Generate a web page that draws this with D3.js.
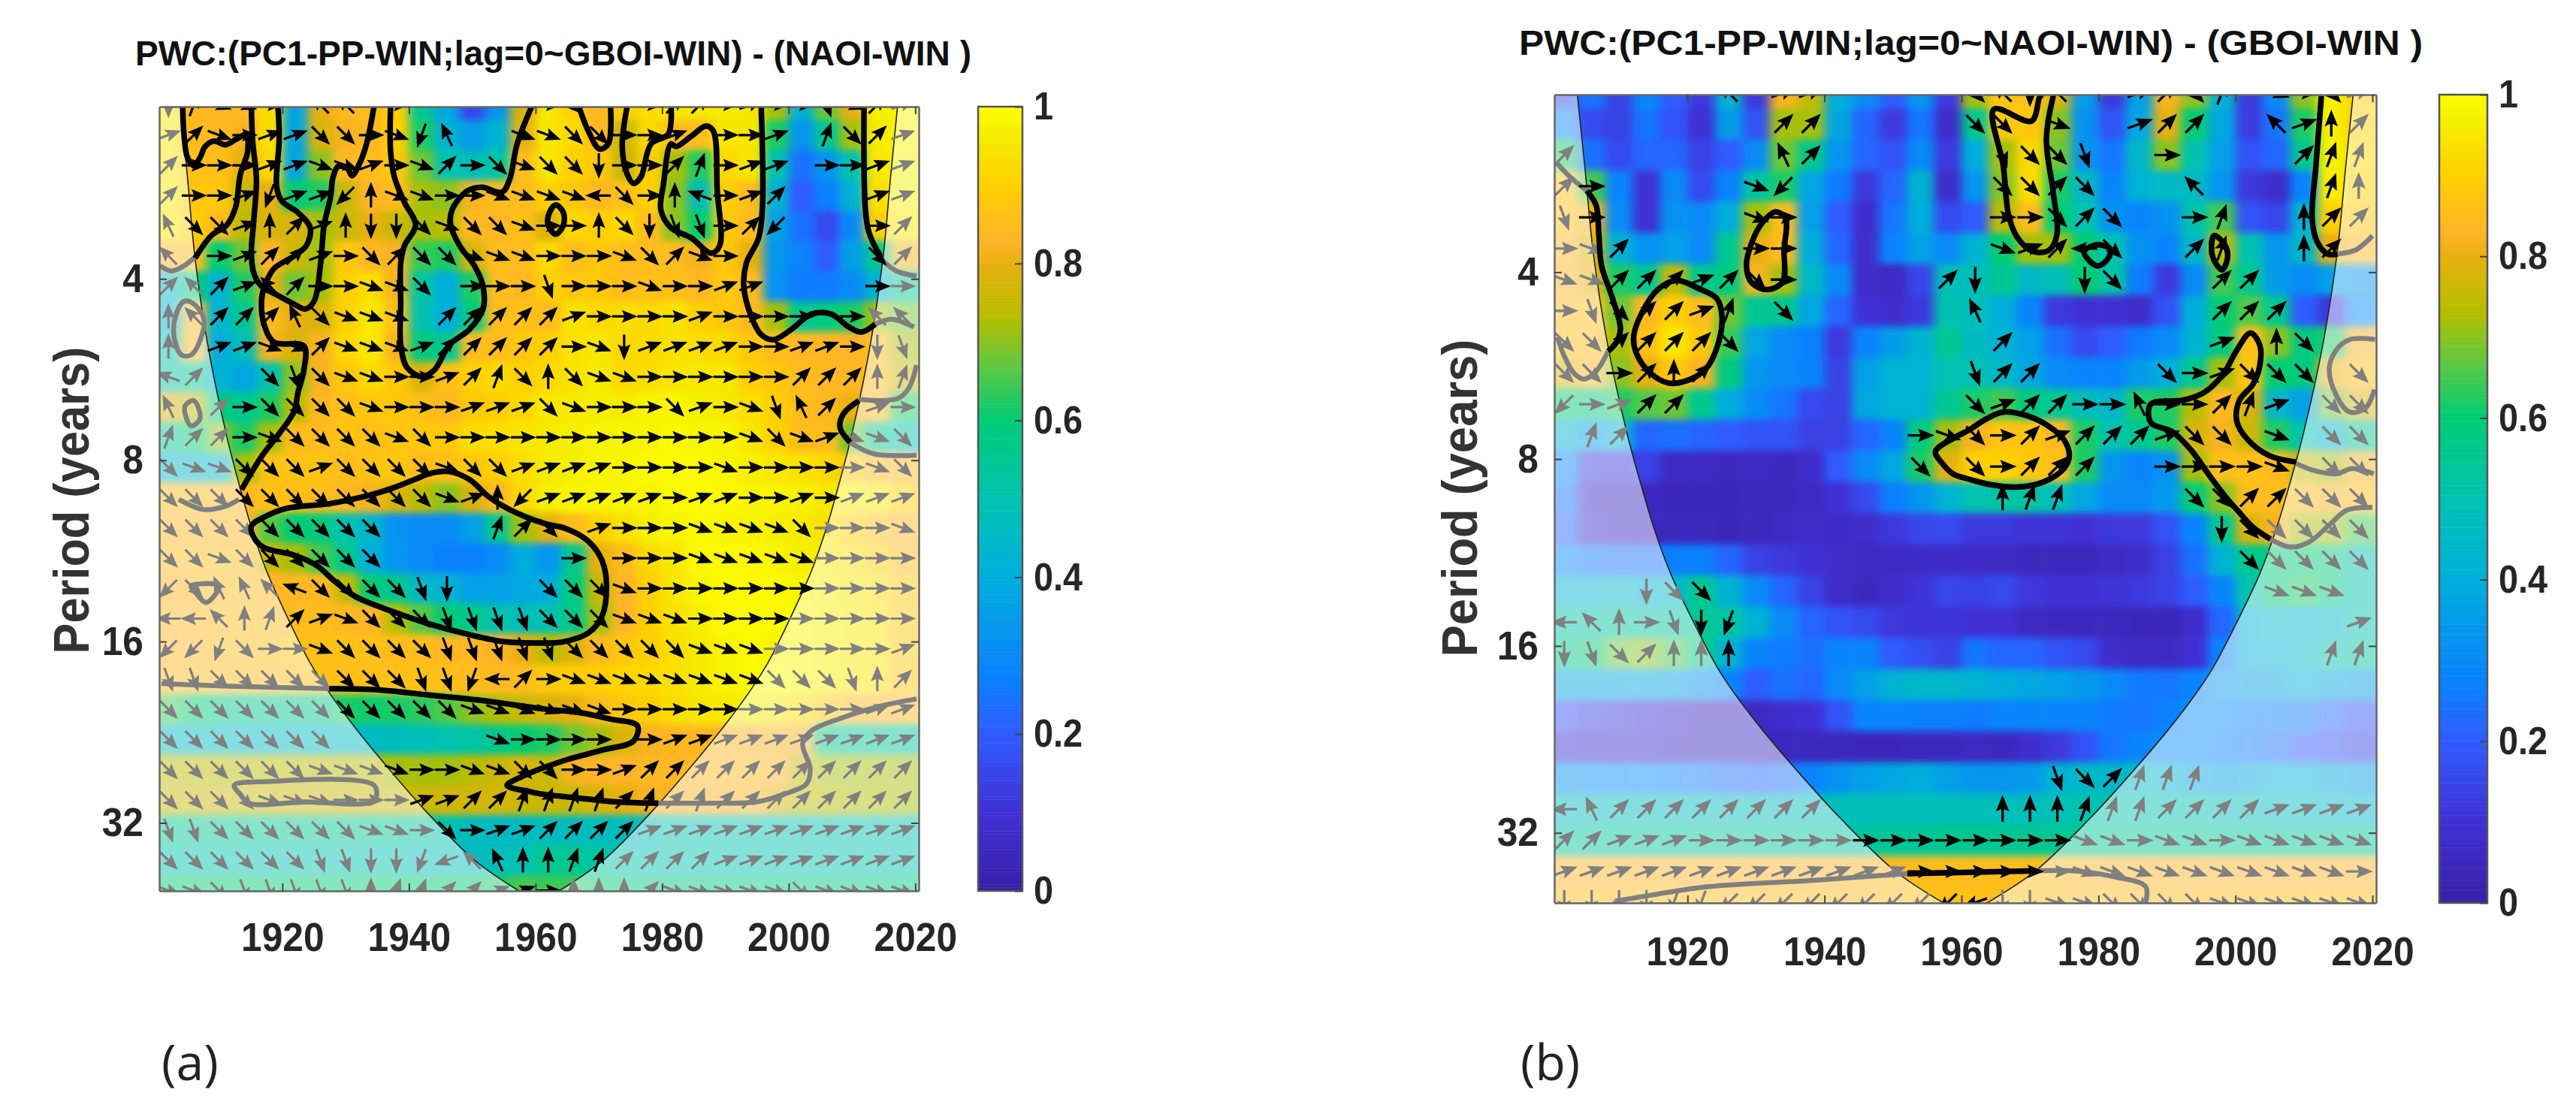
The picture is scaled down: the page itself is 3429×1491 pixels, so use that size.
<!DOCTYPE html>
<html>
<head>
<meta charset="utf-8">
<script src="https://d3js.org/d3.v7.min.js"></script>
<style>
	html, body { margin: 0; padding: 0; background: #fff; }
	text { font-family: "Liberation Sans", Arial, sans-serif; }
</style>
</head>
<body>
<div id="chart"></div>
<script>

// year of each column, log2(period) of each row
var columnYears = d3.range(30).map(function(i) { return 1902 + 4 * i; });
var rowOctaves = d3.range(27).map(function(j) { return 1.04 + j / 6; });

var yearTicks = [1920, 1940, 1960, 1980, 2000, 2020];
var periodTicks = [4, 8, 16, 32];
var colourTicks = [0, 0.2, 0.4, 0.6, 0.8, 1];

var colourStops = [0, 0.1, 0.2, 0.27, 0.4, 0.5, 0.6, 0.67, 0.73, 0.8, 0.83, 0.9, 0.97, 1];
var colourHexes = ["#3a20a8", "#4030d4", "#2f5cff", "#0a80ff", "#00aedc", "#00c2b0", "#00cc74", "#60c840", "#b4be00", "#e8b010", "#ffb428", "#ffd000", "#f5f000", "#ffff00"];

// cone of influence, left branch: year and log2(period)
var coiYears = [1903.9, 1905, 1906.2, 1908.2, 1911.2, 1913.4, 1915.1, 1917.5, 1920.7, 1924.3, 1927.4, 1930.9, 1936.1, 1942.4, 1950.4, 1957.6];
var coiOctaves = [1.046, 1.436, 1.884, 2.361, 2.867, 3.162, 3.369, 3.61, 3.859, 4.112, 4.282, 4.448, 4.672, 4.925, 5.207, 5.38];

// compass letters for the phase arrows, angle in degrees
var compass = { ">": 0, a: 20, A: 45, B: 70, "^": 90, C: 115, D: 135, F: 160, "<": 180, G: 200, H: 225, I: 250, v: 270, J: 290, K: 315, L: 340 };

var coherenceA = [
	[.96,.84,.84,.84,.93,.38,.8,.84,.85,.9,.55,.38,.15,.33,.78,.95,.9,.84,.9,.93,.95,.96,.96,.95,.72,.42,.68,.8,.97,.98],
	[.96,.85,.84,.82,.93,.38,.78,.82,.84,.9,.62,.42,.35,.42,.8,.95,.92,.84,.76,.92,.85,.85,.95,.95,.62,.33,.55,.72,.96,.98],
	[.95,.86,.86,.8,.92,.38,.7,.84,.85,.88,.68,.5,.48,.52,.85,.95,.9,.88,.76,.9,.72,.62,.92,.95,.5,.24,.33,.5,.95,.97],
	[.96,.88,.88,.76,.8,.6,.62,.76,.83,.85,.72,.7,.82,.85,.85,.9,.88,.84,.86,.9,.7,.48,.9,.85,.42,.2,.27,.42,.93,.97],
	[.95,.9,.84,.74,.78,.78,.72,.76,.8,.76,.72,.74,.84,.84,.86,.78,.92,.9,.92,.85,.7,.6,.88,.85,.36,.24,.16,.3,.9,.96],
	[.84,.85,.6,.68,.83,.76,.72,.88,.84,.82,.64,.62,.78,.85,.85,.92,.85,.88,.85,.85,.85,.82,.88,.8,.33,.28,.2,.36,.55,.82],
	[.45,.6,.42,.62,.8,.68,.72,.9,.93,.82,.52,.4,.62,.85,.84,.9,.88,.88,.85,.86,.86,.84,.88,.85,.32,.26,.26,.3,.42,.55],
	[.42,.84,.43,.55,.84,.8,.78,.9,.95,.86,.5,.4,.58,.85,.86,.85,.94,.92,.93,.92,.94,.9,.88,.84,.72,.55,.58,.62,.72,.68],
	[.5,.84,.4,.48,.82,.78,.82,.92,.95,.82,.58,.55,.85,.85,.88,.9,.94,.95,.92,.92,.94,.93,.92,.88,.85,.84,.84,.83,.85,.72],
	[.52,.55,.42,.38,.5,.7,.82,.88,.92,.88,.78,.86,.9,.92,.9,.92,.94,.96,.92,.93,.95,.95,.95,.9,.88,.85,.84,.84,.85,.76],
	[.78,.75,.58,.55,.62,.74,.84,.86,.88,.88,.86,.84,.88,.9,.92,.95,.96,.97,.96,.98,.98,.97,.96,.93,.9,.85,.84,.8,.85,.62],
	[.55,.6,.7,.62,.72,.85,.85,.87,.86,.87,.88,.88,.93,.93,.95,.96,.97,.98,.98,.98,.99,.98,.98,.95,.9,.85,.85,.68,.55,.5],
	[.45,.45,.45,.72,.86,.87,.87,.85,.87,.88,.85,.86,.88,.9,.93,.96,.97,.98,.98,.99,.99,.99,.98,.97,.95,.94,.92,.88,.85,.84],
	[.85,.85,.84,.84,.86,.86,.85,.84,.82,.78,.74,.7,.78,.84,.92,.97,.98,.98,.98,.98,.99,.99,.99,.98,.98,.97,.95,.97,.96,.9],
	[.84,.84,.84,.84,.66,.6,.58,.5,.44,.32,.3,.3,.36,.55,.72,.8,.85,.9,.94,.97,.98,.99,.98,.98,.97,.96,.94,.9,.86,.84],
	[.85,.85,.85,.85,.76,.72,.65,.56,.4,.33,.3,.27,.27,.3,.4,.33,.55,.8,.85,.92,.95,.99,.99,.99,.98,.97,.96,.93,.9,.85],
	[.82,.84,.85,.85,.84,.84,.84,.75,.6,.55,.45,.42,.36,.36,.38,.4,.58,.75,.83,.9,.95,.98,.99,.99,.99,.98,.97,.95,.93,.88],
	[.84,.84,.85,.85,.85,.85,.85,.84,.83,.73,.66,.6,.55,.5,.48,.5,.56,.72,.83,.9,.94,.97,.99,.99,.99,.98,.97,.96,.94,.88],
	[.84,.84,.85,.85,.86,.87,.86,.86,.86,.85,.85,.84,.84,.83,.8,.74,.78,.84,.88,.9,.93,.96,.98,.99,.98,.98,.97,.96,.95,.88],
	[.85,.85,.85,.85,.85,.86,.86,.86,.86,.86,.86,.86,.85,.84,.85,.88,.89,.9,.91,.92,.94,.96,.98,.99,.99,.98,.97,.95,.94,.88],
	[.64,.6,.56,.56,.56,.56,.56,.62,.61,.62,.63,.66,.7,.73,.76,.78,.8,.85,.88,.9,.93,.95,.96,.97,.95,.93,.88,.85,.84,.84],
	[.46,.46,.46,.46,.46,.46,.46,.46,.46,.47,.48,.5,.52,.56,.6,.62,.68,.72,.78,.82,.84,.84,.84,.82,.82,.82,.56,.54,.54,.52],
	[.74,.74,.74,.74,.74,.74,.74,.74,.74,.72,.72,.72,.74,.76,.78,.76,.82,.83,.83,.84,.84,.84,.84,.84,.84,.75,.72,.72,.72,.72],
	[.76,.76,.76,.76,.76,.76,.76,.76,.76,.76,.76,.77,.77,.77,.76,.76,.76,.78,.8,.82,.82,.82,.82,.82,.78,.74,.74,.73,.73,.72],
	[.56,.55,.55,.55,.55,.55,.55,.55,.55,.55,.53,.5,.47,.46,.46,.47,.47,.47,.47,.48,.5,.5,.5,.5,.5,.5,.5,.5,.5,.5],
	[.5,.5,.5,.5,.5,.5,.5,.5,.5,.5,.48,.48,.47,.48,.5,.55,.55,.52,.5,.5,.5,.5,.5,.5,.5,.5,.5,.5,.5,.5],
	[.6,.6,.6,.6,.6,.6,.6,.6,.6,.6,.6,.6,.6,.62,.65,.64,.64,.6,.58,.58,.58,.58,.58,.58,.58,.58,.58,.58,.58,.58]
];

var coherenceB = [
	[.16,.25,.14,.28,.2,.12,.42,.12,.82,.75,.4,.3,.2,.33,.12,.72,.87,.87,.78,.35,.12,.36,.82,.7,.42,.12,.3,.7,.97,.9],
	[.3,.16,.14,.25,.18,.1,.35,.18,.72,.72,.38,.22,.12,.25,.08,.55,.88,.88,.7,.32,.18,.38,.8,.6,.38,.13,.25,.62,.97,.9],
	[.62,.24,.16,.22,.22,.14,.2,.3,.68,.56,.33,.22,.18,.3,.12,.4,.72,.92,.68,.33,.25,.45,.7,.5,.36,.18,.22,.55,.97,.92],
	[.86,.65,.28,.1,.3,.16,.28,.52,.62,.38,.26,.12,.22,.42,.08,.33,.7,.93,.62,.45,.28,.42,.45,.46,.33,.12,.08,.28,.97,.9],
	[.87,.82,.3,.1,.32,.3,.4,.72,.85,.36,.2,.08,.25,.4,.16,.2,.74,.85,.6,.5,.32,.28,.32,.5,.65,.18,.15,.42,.9,.88],
	[.84,.78,.42,.32,.36,.3,.55,.8,.85,.4,.22,.08,.28,.36,.3,.42,.6,.72,.72,.6,.5,.32,.28,.45,.75,.5,.33,.44,.8,.84],
	[.83,.8,.62,.55,.75,.55,.58,.82,.72,.45,.3,.08,.06,.15,.48,.48,.55,.45,.48,.6,.52,.26,.12,.3,.65,.55,.35,.3,.36,.33],
	[.85,.86,.68,.84,.9,.85,.68,.55,.55,.38,.22,.1,.08,.12,.5,.48,.4,.28,.12,.1,.1,.08,.18,.4,.6,.66,.55,.2,.12,.3],
	[.86,.85,.72,.86,.95,.88,.64,.38,.3,.27,.12,.28,.35,.42,.55,.46,.42,.36,.24,.16,.2,.26,.3,.42,.58,.86,.7,.58,.62,.82],
	[.78,.84,.7,.8,.88,.82,.58,.33,.3,.28,.14,.36,.42,.42,.5,.5,.45,.38,.3,.28,.28,.35,.4,.55,.72,.87,.6,.58,.8,.85],
	[.6,.58,.62,.66,.68,.56,.4,.3,.25,.16,.14,.38,.42,.42,.55,.62,.65,.58,.55,.48,.44,.62,.62,.74,.84,.78,.45,.36,.68,.78],
	[.42,.36,.42,.22,.24,.22,.2,.18,.18,.14,.14,.22,.28,.58,.72,.82,.87,.87,.84,.62,.5,.55,.62,.78,.82,.76,.62,.5,.42,.55],
	[.3,.13,.12,.14,.06,.06,.05,.06,.05,.08,.2,.3,.38,.62,.8,.9,.9,.88,.86,.62,.33,.28,.32,.72,.86,.86,.85,.75,.72,.82],
	[.25,.07,.06,.05,.04,.04,.04,.05,.05,.06,.1,.16,.27,.33,.42,.5,.52,.52,.48,.38,.3,.3,.34,.6,.7,.85,.85,.85,.82,.85],
	[.22,.09,.06,.05,.05,.05,.04,.05,.06,.08,.07,.08,.12,.15,.16,.12,.12,.11,.11,.1,.12,.12,.18,.28,.55,.78,.82,.72,.72,.65],
	[.3,.26,.24,.24,.27,.27,.22,.14,.12,.1,.08,.06,.06,.07,.07,.06,.06,.05,.05,.05,.06,.08,.14,.24,.42,.55,.58,.6,.58,.5],
	[.42,.42,.44,.42,.45,.55,.42,.3,.22,.14,.08,.05,.08,.11,.15,.14,.16,.12,.1,.1,.11,.12,.14,.2,.28,.5,.6,.62,.58,.5],
	[.52,.52,.53,.52,.52,.55,.52,.42,.3,.22,.18,.16,.12,.11,.11,.1,.1,.06,.05,.05,.05,.04,.04,.08,.22,.42,.44,.42,.44,.5],
	[.56,.6,.68,.7,.65,.56,.42,.28,.26,.24,.28,.28,.2,.17,.14,.25,.22,.22,.18,.16,.08,.06,.06,.1,.28,.4,.42,.44,.5,.52],
	[.38,.38,.38,.38,.36,.32,.28,.2,.24,.22,.3,.36,.42,.44,.44,.42,.4,.38,.36,.34,.3,.26,.25,.28,.34,.36,.38,.4,.38,.36],
	[.18,.14,.12,.1,.08,.06,.06,.06,.08,.1,.18,.28,.28,.27,.27,.26,.28,.28,.28,.28,.26,.25,.27,.3,.3,.28,.27,.26,.22,.18],
	[.1,.09,.08,.08,.07,.06,.06,.06,.05,.05,.05,.04,.04,.05,.05,.06,.05,.08,.12,.18,.25,.28,.3,.3,.28,.26,.24,.2,.18,.15],
	[.33,.3,.3,.3,.28,.26,.24,.22,.24,.28,.32,.36,.38,.4,.36,.33,.33,.35,.42,.45,.44,.45,.42,.38,.36,.38,.4,.4,.38,.36],
	[.46,.47,.47,.47,.47,.47,.47,.47,.47,.48,.48,.48,.48,.48,.48,.48,.48,.48,.49,.5,.5,.5,.5,.5,.48,.48,.46,.46,.46,.44],
	[.53,.53,.53,.53,.53,.53,.53,.53,.53,.53,.53,.53,.54,.54,.55,.55,.55,.55,.55,.55,.54,.54,.54,.54,.54,.54,.54,.54,.54,.54],
	[.83,.83,.83,.83,.83,.83,.83,.83,.83,.83,.83,.83,.84,.85,.85,.85,.85,.85,.85,.84,.83,.83,.83,.83,.83,.83,.83,.83,.83,.83],
	[.85,.85,.85,.85,.85,.85,.85,.85,.85,.85,.85,.85,.85,.86,.86,.86,.86,.86,.85,.85,.85,.85,.85,.85,.85,.85,.85,.85,.85,.85]
];

var arrowsA = [
	"vBLL>.DD.>.....>K..>AA>a>>JLAa",
	"aAL>aaKK>LIC..LLKK>>a.>>a.BKAa",
	"A>>>aaLLa>LA>KLKKv>>AB>aa.>>aa",
	"A>>aIaaH^LL>>LLLL<K>^F>aA...aa",
	"CKKa^Aa^vvKLKKL>>^KvJJ>AH...>A",
	"D.>aAAa>KAKKLLL>>>LKAL>.....KA",
	"ADAaDA>>LLK.>>>J>>>L>>aa....>>",
	"^DAAACKLLL.AAAAAa>>>>a>>>>.>DD",
	"^.aaLLALLLaAAAAA>Lvaaaa>>aa>vJ",
	"FA..KJKLL>>aABK^KLL>>>>>>AAA^B",
	"C.A>KKKKL>>>aaaKL>>>Ka>LJCA.a>",
	"BAA>LKKKKLK>>>>>>>>>>>>LKLaLLK",
	"KLLKKKaKKKKLKKaaaa>>>>L>>>>>LK",
	"KKKKKKKKKKKLa^Haaaaa>aa>>a>aaa",
	"KKKKKKKKK....BAK.a>>>LLLLK>>>L",
	"KKLKKKKKK.......>.>>>LLLLL>>>>",
	"HKCCDFKKKKJv...KKKL>>>>>>>>>>>",
	"<<D^BAaLKKKJJJJKKKLLL>>>>>>>>>",
	"HHIK>>LKKKKJJJJJKKKKKLLL>>>>>a",
	"JJKKKKKKKKJJI<A>LLLLLLLLKKKJ^A",
	"KKKKKKKKKKKKLLLLLL>>>>>>>>>>aa",
	"KKKKKKK......L>>>>.>aaaaaaaaaa",
	"KKKKKKLLLL>>LLKK>>aAAAAAAAAAAA",
	"KKKKLLL>>>aaAABBBBABABAAAAAAAA",
	"JJKKKKKKLL>K>aaAAAAaaaaaaaaaaa",
	"KKKKKKJJvvIGDC^^BBAAAAaaaaaaaa",
	"LLKJJJJJ^BBAAaa>^^^ALLLLLKLLLL"
];

var arrowsB = [
	"......D.aa.....KDvD..aAKB.L>Ka",
	"........AA.....KK.L..aAA..Da^A",
	"A.......CA......JKKJ..>....ABB",
	"A>.....LH.......KKAK...D....B^",
	"J>.....L>.......>>KAK..>B..^AA",
	">LA....>>.......LaA<K..AB..^A.",
	"LLAAAaAK>.....Av...vK...AA....",
	">JKAAaB.K......C........AAA...",
	"KKAAAAK.........A.......a.^K..",
	"KK>A^A.........JAA....K>aKKK.K",
	"H>aAA..........KaAA>>C>>ABa.KK",
	".BA..........>LK>AaAAAaKK.L.KK",
	".............K.K>AAA..>>>>L.KK",
	"................^BB....KKAAKKK",
	"........................vKKKKK",
	".........................KKKKK",
	"...vKK....................LLL.",
	"<D^>JvI......................a",
	"vJKA^^^.....................BB",
	"..............................",
	"..............................",
	"..............................",
	"..................JKABBB......",
	"<CAAAAAAAA......^^^BBBAAAAaaaa",
	"AAaaa>>>>>>>>>>>>>>LL>LL>LLLLL",
	"aaaaaaaaaaaaa>>>>>>LLLLLLLLLL>",
	"vvvvIIHHHHHHHHHGvvLLKKKKLLLLLL"
];

// significance contours as [year, log2(period)]
var blackLinesA = [
	[[1904.25,1.045],[1904.45,1.2],[1905,1.33],[1906,1.375],[1907,1.33],[1907.8,1.27],[1909.2,1.24],[1911,1.26],[1912.8,1.227],[1914.3,1.206],[1914.5,1.3],[1913.35,1.424],[1912.6,1.606],[1911.2,1.704],[1908.8,1.76],[1906.2,1.886]],
	[[1915.1,1.045],[1915.3,1.24],[1915.9,1.45],[1915.45,1.69],[1915.1,1.858],[1915.5,1.97],[1916.7,2.04],[1918.7,2.08],[1921.9,2.14],[1923.6,2.166],[1925,2.124],[1926,1.928],[1926.6,1.704],[1927.6,1.55],[1928,1.44],[1928.8,1.38],[1930.2,1.388],[1931,1.43],[1932.15,1.367],[1933.3,1.255],[1934.5,1.045]],
	[[1919.3,1.045],[1919.5,1.227],[1919.1,1.494],[1919.9,1.57],[1922.45,1.634],[1924.4,1.718],[1923.8,1.816],[1921.9,1.872],[1918.7,1.942],[1917.7,1.998],[1917.1,2.047],[1916.7,2.124],[1917.1,2.25],[1918.7,2.349],[1923.4,2.37],[1923.4,2.503],[1922.45,2.629],[1921.9,2.727],[1919.5,2.853],[1916.7,2.98],[1913.55,3.162]],
	[[1937.1,1.045],[1937.1,1.297],[1937.7,1.438],[1939.3,1.578],[1941.05,1.704],[1939.3,1.816],[1938.7,1.914],[1938.7,2.138],[1938.7,2.363],[1939.7,2.489],[1942,2.538],[1944,2.503],[1946.4,2.363],[1949.55,2.279],[1951.7,2.166],[1951.7,2.04],[1950.35,1.928],[1948,1.816],[1946.6,1.704],[1946.8,1.62],[1949.2,1.515],[1951.5,1.494],[1954.7,1.522],[1955.9,1.452],[1957.1,1.255],[1959.45,1.045]],
	[[1966.8,1.045],[1968.35,1.185],[1970.1,1.283],[1971.5,1.255],[1971.85,1.045]],
	[[1974.5,1.045],[1973.7,1.27],[1974.5,1.424],[1975.5,1.473],[1976.65,1.438],[1978.25,1.255],[1981,1.2],[1981.4,1.045]],
	[[1995.65,1.045],[1995.85,1.606],[1995.25,1.774],[1993.3,1.914],[1992.9,2.04],[1994.1,2.208],[1995.65,2.307],[1997.6,2.335],[2000.4,2.279],[2003.6,2.194],[2006.7,2.194],[2009.5,2.265],[2011.5,2.293],[2013.65,2.25]],
	[[2011.9,1.045],[2012.1,1.606],[2012.7,1.746],[2014.65,1.886]],
	[[2011.1,2.671],[2008.7,2.741],[2008.1,2.818],[2009.7,2.902]],
	[[1927.4,4.26],[1935.3,4.267],[1943.2,4.295],[1951.1,4.323],[1961.4,4.372],[1967.2,4.393],[1971.9,4.428],[1976.1,4.464],[1975.5,4.548],[1970.7,4.597],[1964.8,4.653],[1960.8,4.702],[1957.9,4.744],[1955.5,4.793],[1959.1,4.828],[1960.8,4.84],[1966.8,4.863],[1972.7,4.884],[1979.4,4.891]]
];
var blackLoopsA = [
	[[1981.4,1.255],[1980.2,1.48],[1979.8,1.62],[1981.4,1.718],[1984.6,1.774],[1987.75,1.858],[1989.1,1.816],[1988.7,1.508],[1988.1,1.185],[1986.95,1.157],[1984.6,1.213],[1982.2,1.27]],
	[[1963.2,1.592],[1964.4,1.634],[1964.4,1.704],[1963.2,1.753],[1962,1.704],[1962.2,1.634]],
	[[1915.1,3.363],[1917.1,3.314],[1920.7,3.265],[1927.4,3.24],[1933,3.2],[1937.3,3.155],[1940.9,3.106],[1943.6,3.07],[1946.4,3.063],[1949.55,3.106],[1952.7,3.204],[1955.9,3.272],[1961.4,3.349],[1964.8,3.377],[1968.35,3.447],[1970.5,3.552],[1971.2,3.679],[1970.5,3.861],[1968.35,3.952],[1964.4,4.001],[1960.83,4.008],[1955.1,4.001],[1949.2,3.959],[1943.2,3.903],[1937.3,3.833],[1931.4,3.749],[1928.2,3.665],[1925.4,3.58],[1921.9,3.524],[1917.1,3.482],[1915.5,3.426]]
];
var grayLinesA = [
	[[1900.7,1.928],[1902.5,1.956],[1904.45,1.928],[1906.2,1.879]],
	[[1903.65,3.216],[1907.6,3.272],[1911.2,3.251],[1913.15,3.216]],
	[[1900.9,4.232],[1911.6,4.246],[1927.4,4.26]],
	[[2014.85,1.9],[2017,1.956],[2020.2,1.984]],
	[[2013.65,2.25],[2016.2,2.222],[2019.8,2.265]],
	[[2020.2,2.475],[2019,2.601],[2017.4,2.657],[2014.25,2.671],[2011.1,2.664]],
	[[2009.7,2.902],[2013.45,2.965],[2020.2,2.972]],
	[[1979.4,4.891],[1988.5,4.891],[1994.9,4.884],[2000.4,4.828],[2002.8,4.786],[2003.4,4.702],[2002.2,4.562],[2003.6,4.492],[2008.3,4.422],[2014.25,4.358],[2020.2,4.316]]
];
var grayLoopsA = [
	[[1904.45,2.124],[1903.1,2.208],[1902.9,2.32],[1904.05,2.419],[1905.6,2.419],[1907.2,2.32],[1907.6,2.222],[1906,2.138]],
	[[1904.65,2.699],[1906,2.671],[1907,2.769],[1905.6,2.811],[1904.85,2.769]],
	[[1905.6,3.693],[1910,3.693],[1908,3.784],[1906.4,3.735]],
	[[1912.4,4.793],[1917.5,4.772],[1934.5,4.793],[1934.5,4.877],[1923.4,4.884],[1914.7,4.891],[1913.35,4.842]]
];

var blackLinesB = [
	[[1905.3,1.565],[1906.65,1.642],[1907.05,1.797],[1907.45,1.966],[1909,2.135],[1910.2,2.304],[1909.6,2.375],[1908.4,2.424]],
	[[1971.8,1.05],[1971.4,1.064],[1970.25,1.191],[1964.75,1.128],[1966.1,1.431],[1966.9,1.698],[1968.1,1.811],[1970.45,1.889],[1972.8,1.882],[1973.95,1.797],[1973.4,1.572],[1972.4,1.29],[1973.4,1.057]],
	[[2012.55,1.057],[2011.75,1.431],[2011.2,1.713],[2011.95,1.839],[2013.5,1.903],[2014.9,1.903]],
	[[2005.1,3.428],[2002.55,3.365],[2000.6,3.287],[1998.65,3.206],[1996.3,3.093],[1993.55,2.953],[1990.8,2.854],[1987.65,2.805],[1987.65,2.706],[1992.35,2.685],[1995.5,2.642],[1998.25,2.544],[2000.2,2.417],[2002.2,2.325],[2003.55,2.389],[2003.55,2.502],[2002.55,2.6],[2000.6,2.685],[2000.2,2.797],[2001.8,2.896],[2004.9,2.981],[2008.85,3.016]],
	[[1952.1,5.218],[1961,5.211],[1970,5.204]]
];
var blackLoopsB = [
	[[1918.4,2.044],[1921.55,2.086],[1924.3,2.142],[1925.05,2.248],[1924.3,2.403],[1922.7,2.516],[1920,2.579],[1917.2,2.593],[1914.5,2.537],[1912.5,2.431],[1912.15,2.34],[1913.3,2.22],[1915.65,2.093]],
	[[1932.9,1.677],[1934.3,1.713],[1934.1,1.882],[1933.9,2.051],[1931.7,2.093],[1929.4,2.058],[1928.6,1.966],[1929.4,1.84],[1930.95,1.734]],
	[[1979.85,1.853],[1981.8,1.882],[1981,1.945],[1979.8,1.966],[1978.65,1.938],[1977.9,1.889]],
	[[1996.9,1.804],[1998.45,1.853],[1998.85,1.924],[1998.05,1.987],[1996.9,1.938],[1996.5,1.868]],
	[[1966.1,2.748],[1969.65,2.769],[1972.8,2.826],[1974.95,2.896],[1975.75,2.981],[1974.95,3.051],[1972,3.122],[1968.1,3.15],[1964.15,3.136],[1961.03,3.107],[1958.8,3.08],[1957.2,3.023],[1956.2,2.96],[1959.15,2.882],[1961,2.847],[1963.4,2.79]]
];
var grayLinesB = [
	[[1900.8,1.41],[1902.75,1.487],[1905.3,1.565]],
	[[1908.4,2.424],[1906.65,2.53],[1904.9,2.572],[1903.5,2.544],[1901.95,2.445],[1901,2.347]],
	[[2014.9,1.903],[2017.5,1.882],[2019.05,1.84],[2020,1.804]],
	[[2020.4,2.36],[2016.65,2.361],[2014.7,2.417],[2013.7,2.516],[2014.7,2.657],[2016.65,2.748],[2019,2.727],[2020.3,2.628]],
	[[2008.85,3.023],[2011.2,3.058],[2014.7,3.079],[2017.05,3.051],[2020.2,3.079]],
	[[2005.1,3.428],[2008.05,3.471],[2010.8,3.443],[2013.55,3.358],[2016.3,3.273],[2020,3.259]],
	[[1909.4,5.366],[1915.3,5.33],[1923.1,5.288],[1938.8,5.253],[1952.1,5.218]],
	[[1970,5.204],[1976.7,5.204],[1981.8,5.232],[1986.9,5.288],[1986.9,5.373]]
];

var colour = d3.scaleLinear().domain(colourStops).range(colourHexes);
var coiEdge = d3.scaleLinear().domain(coiYears).range(coiOctaves);

var svg = d3.select("#chart")
	.append("svg")
	.attr("width", 3429)
	.attr("height", 1491);

var defs = svg.append("defs");
var arrowShape = "M-16,-1.6L0,-1.6L-3,-8.5L18,0L-3,8.5L0,1.6L-16,1.6Z";

// squeeze a label sideways so it reads tall and narrow like the original
var squeeze = function(sel, k) {
	sel.each(function() {
		d3.select(this)
			.attr("textLength", this.getComputedTextLength() * k)
			.attr("lengthAdjust", "spacingAndGlyphs");
	});
}

var Panel = function(opts) {

	this.opts = opts;
	this.g = svg.append("g");

	this.x = d3.scaleLinear().domain([1900.55, 2020.55]).range([opts.left, opts.right]);
	// period axis is log2, so a plain linear scale on the octave
	this.y = d3.scaleLinear().domain([1.05, 5.375]).range([opts.top, opts.bottom]);

	var clip = "clip" + opts.id;
	defs.append("clipPath").attr("id", clip)
		.append("rect")
		.attr("x", opts.left).attr("y", opts.top)
		.attr("width", opts.right - opts.left)
		.attr("height", opts.bottom - opts.top);

	defs.append("filter").attr("id", "soft" + opts.id)
		.attr("filterUnits", "userSpaceOnUse")
		.attr("x", opts.left - 80).attr("y", opts.top - 80)
		.attr("width", opts.right - opts.left + 160)
		.attr("height", opts.bottom - opts.top + 160)
		.attr("color-interpolation-filters", "sRGB")
		.append("feGaussianBlur")
		.attr("stdDeviation", "7 5");

	this.plot = this.g.append("g").attr("clip-path", "url(#" + clip + ")");

	this.drawCells();
	this.drawCone();
	this.drawContours(opts.grayLines, opts.grayLoops, "#808080", 6.5);
	this.drawArrows();
	this.drawContours(opts.blackLines, opts.blackLoops, "#000", 7.5);
	this.drawAxes();
	this.drawColourBar();
	this.drawText();
}

Panel.prototype.drawCells = function() {
	var x = this.x, y = this.y;
	var cells = [];
	this.opts.coherence.forEach(function(row, j) {
		row.forEach(function(v, i) {
			cells.push({ year: columnYears[i], octave: rowOctaves[j], value: v, i: i, j: j });
		});
	});
	// edge cells run past the frame so the blur doesn't fade to white
	this.plot.append("g")
		.attr("filter", "url(#soft" + this.opts.id + ")")
		.selectAll("rect")
		.data(cells)
		.enter()
		.append("rect")
		.attr("x", function(d) { return x(d.year - 2) - (d.i == 0 ? 60 : 0); })
		.attr("y", function(d) { return y(d.octave - 1 / 12) - (d.j == 0 ? 60 : 0); })
		.attr("width", function(d) { return x(d.year + 2) - x(d.year - 2) + (d.i == 0 || d.i == 29 ? 60 : 0) + 0.5; })
		.attr("height", function(d) { return y(d.octave + 1 / 12) - y(d.octave - 1 / 12) + (d.j == 0 || d.j == 26 ? 60 : 0) + 0.5; })
		.attr("fill", function(d) { return colour(d.value); });
}

Panel.prototype.drawCone = function() {
	var x = this.x, y = this.y, o = this.opts;
	var left = coiYears.map(function(yr, i) { return { year: yr, octave: coiOctaves[i] }; });
	var right = left.map(function(d) { return { year: 3921.1 - d.year, octave: d.octave }; });

	var shade = function(edge) {
		return d3.area()
			.curve(d3.curveCatmullRom)
			.y(function(d) { return y(d.octave); })
			.x0(edge)
			.x1(function(d) { return x(d.year); });
	};
	var line = d3.line()
		.curve(d3.curveCatmullRom)
		.x(function(d) { return x(d.year); })
		.y(function(d) { return y(d.octave); });

	this.plot.append("path").attr("d", shade(o.left)(left)).attr("fill", "#fff").attr("opacity", 0.52);
	this.plot.append("path").attr("d", shade(o.right)(right)).attr("fill", "#fff").attr("opacity", 0.52);
	this.plot.append("path").attr("d", line(left)).attr("fill", "none").attr("stroke", "#222").attr("stroke-width", 1.6);
	this.plot.append("path").attr("d", line(right)).attr("fill", "none").attr("stroke", "#222").attr("stroke-width", 1.6);
}

Panel.prototype.drawContours = function(lines, loops, stroke, width) {
	var x = this.x, y = this.y;
	var open = d3.line().curve(d3.curveCatmullRom)
		.x(function(d) { return x(d[0]); }).y(function(d) { return y(d[1]); });
	var closed = d3.line().curve(d3.curveCatmullRomClosed)
		.x(function(d) { return x(d[0]); }).y(function(d) { return y(d[1]); });

	var paths = lines.map(function(l) { return open(l); }).concat(loops.map(function(l) { return closed(l); }));
	this.plot.append("g")
		.selectAll("path")
		.data(paths)
		.enter()
		.append("path")
		.attr("d", function(d) { return d; })
		.attr("fill", "none")
		.attr("stroke", stroke)
		.attr("stroke-width", width)
		.attr("stroke-linejoin", "round");
}

Panel.prototype.drawArrows = function() {
	var x = this.x, y = this.y, k = this.opts.arrowScale;
	var list = [];
	this.opts.arrows.forEach(function(row, j) {
		row.split("").forEach(function(c, i) {
			if (c == ".") return;
			var d = Math.min(columnYears[i], 3921.1 - columnYears[i]);
			list.push({
				year: columnYears[i],
				octave: rowOctaves[j],
				angle: compass[c],
				inside: rowOctaves[j] < coiEdge(d)
			});
		});
	});
	this.plot.append("g")
		.selectAll("path")
		.data(list)
		.enter()
		.append("path")
		.attr("d", arrowShape)
		.attr("transform", function(d) {
			return "translate(" + x(d.year) + "," + y(d.octave) + ") rotate(" + (-d.angle) + ") scale(" + k + ")";
		})
		.attr("fill", function(d) { return d.inside ? "#000" : "#808080"; });
}

Panel.prototype.drawAxes = function() {
	var o = this.opts, x = this.x, y = this.y;
	var axes = this.g.append("g");
	var octaves = periodTicks.map(function(p) { return Math.log2(p); });
	var periodLabel = function(v) { return Math.round(Math.pow(2, v)); };

	axes.append("g")
		.attr("transform", "translate(0," + o.bottom + ")")
		.call(d3.axisBottom(x).tickValues(yearTicks).tickFormat(d3.format("d")).tickSize(-10).tickSizeOuter(0).tickPadding(o.xPad));
	axes.append("g")
		.attr("transform", "translate(" + o.left + ",0)")
		.call(d3.axisLeft(y).tickValues(octaves).tickFormat(periodLabel).tickSize(-10).tickSizeOuter(0).tickPadding(21));
	axes.append("g")
		.attr("transform", "translate(0," + o.top + ")")
		.call(d3.axisTop(x).tickValues(yearTicks).tickFormat("").tickSize(-10).tickSizeOuter(0));
	axes.append("g")
		.attr("transform", "translate(" + o.right + ",0)")
		.call(d3.axisRight(y).tickValues(octaves).tickFormat("").tickSize(-10).tickSizeOuter(0));

	axes.selectAll("path.domain").attr("stroke", "#666").attr("stroke-width", 2.5);
	axes.selectAll(".tick line").attr("stroke", "#444").attr("stroke-width", 2);
	axes.selectAll(".tick text")
		.attr("font-family", "Liberation Sans")
		.attr("font-weight", "bold")
		.attr("font-size", 54)
		.attr("fill", "#262626")
		.call(squeeze, 0.92);
}

Panel.prototype.drawColourBar = function() {
	var o = this.opts;
	var scale = d3.scaleLinear().domain([0, 1]).range([o.bottom, o.top]);
	var bar = this.g.append("g");

	bar.selectAll("rect")
		.data(d3.range(0, 1, 0.004))
		.enter()
		.append("rect")
		.attr("x", o.barLeft)
		.attr("y", function(d) { return scale(d + 0.004) - 0.5; })
		.attr("width", o.barRight - o.barLeft)
		.attr("height", function(d) { return scale(d) - scale(d + 0.004) + 0.5; })
		.attr("fill", function(d) { return colour(d + 0.002); });

	bar.append("rect")
		.attr("x", o.barLeft).attr("y", o.top)
		.attr("width", o.barRight - o.barLeft)
		.attr("height", o.bottom - o.top)
		.attr("fill", "none")
		.attr("stroke", "#555")
		.attr("stroke-width", 2.5);

	var axis = bar.append("g")
		.attr("transform", "translate(" + o.barRight + ",0)")
		.call(d3.axisRight(scale).tickValues(colourTicks).tickFormat(function(d) { return d; }).tickSize(-10).tickSizeOuter(0).tickPadding(15));
	axis.select("path.domain").remove();
	axis.selectAll(".tick line").attr("stroke", "#444").attr("stroke-width", 2);
	axis.selectAll(".tick text")
		.attr("font-family", "Liberation Sans")
		.attr("font-weight", "bold")
		.attr("font-size", 52)
		.attr("fill", "#262626")
		.call(squeeze, 0.9);
}

Panel.prototype.drawText = function() {
	var o = this.opts;
	this.g.append("text")
		.attr("x", o.titleX).attr("y", o.titleY)
		.attr("textLength", o.titleWidth)
		.attr("lengthAdjust", "spacingAndGlyphs")
		.attr("font-weight", "bold")
		.attr("font-size", 46)
		.attr("fill", "#111")
		.text(o.title);

	this.g.append("text")
		.attr("transform", "translate(" + o.labelX + "," + o.labelY + ") rotate(-90)")
		.attr("text-anchor", "middle")
		.attr("textLength", o.labelLength)
		.attr("lengthAdjust", "spacingAndGlyphs")
		.attr("font-weight", "bold")
		.attr("font-size", 66)
		.attr("fill", "#333")
		.text("Period (years)");

	this.g.append("text")
		.attr("x", o.tagX).attr("y", 1438)
		.style("font-family", "'Open Sans'")
		.attr("font-size", 66)
		.attr("fill", "#222")
		.text(o.tag);
}

new Panel({
	id: "a", coherence: coherenceA, arrows: arrowsA, arrowScale: 1,
	blackLines: blackLinesA, blackLoops: blackLoopsA, grayLines: grayLinesA, grayLoops: grayLoopsA,
	left: 212, right: 1223, top: 142, bottom: 1186, xPad: 42,
	barLeft: 1302, barRight: 1361,
	title: "PWC:(PC1-PP-WIN;lag=0~GBOI-WIN) - (NAOI-WIN )", titleX: 180, titleY: 87, titleWidth: 1113,
	labelX: 118, labelY: 666, labelLength: 409, tag: "(a)", tagX: 215
});

new Panel({
	id: "b", coherence: coherenceB, arrows: arrowsB, arrowScale: 1.05,
	blackLines: blackLinesB, blackLoops: blackLoopsB, grayLines: grayLinesB, grayLoops: [],
	left: 2069, right: 3163, top: 126, bottom: 1202, xPad: 45,
	barLeft: 3247, barRight: 3311,
	title: "PWC:(PC1-PP-WIN;lag=0~NAOI-WIN) - (GBOI-WIN )", titleX: 2022, titleY: 73, titleWidth: 1203,
	labelX: 1966, labelY: 663, labelLength: 423, tag: "(b)", tagX: 2024
});

</script>
</body>
</html>
